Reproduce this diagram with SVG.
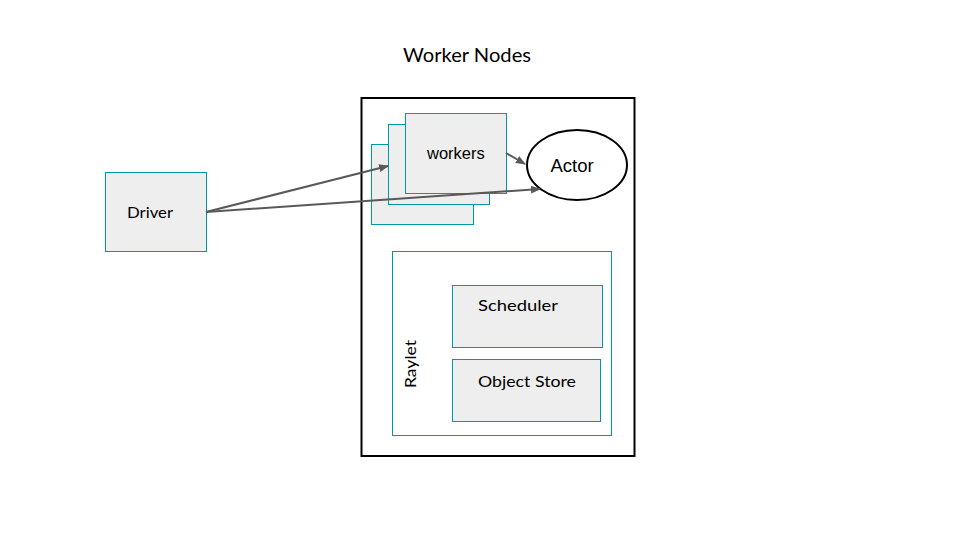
<svg xmlns="http://www.w3.org/2000/svg" width="960" height="540" viewBox="0 0 960 540">
<style>
.box{fill:#eeeeee;stroke:#0097a7;stroke-width:1}
.frame{fill:none;stroke:#0097a7;stroke-width:1}
.t{font-family:"Lato","Noto Sans",sans-serif;font-size:16px;fill:#000}
.a{font-family:"Liberation Sans",Arial,sans-serif;fill:#000}
.c{fill:none;stroke:#595959;stroke-width:2;marker-end:url(#ah)}
</style>
<defs>
<marker id="ah" markerWidth="10" markerHeight="8" refX="9" refY="4" orient="auto" markerUnits="userSpaceOnUse">
<path d="M0,0 L10,4 L0,8 Z" fill="#595959"/>
</marker>
</defs>
<rect width="960" height="540" fill="#fff"/>
<text class="t" x="403" y="62" style="font-size:19px" textLength="128" lengthAdjust="spacingAndGlyphs">Worker Nodes</text>
<g id="worker-nodes"><rect x="361.5" y="98" width="273" height="358" fill="none" stroke="#000" stroke-width="2"/></g>
<g id="driver"><rect class="box" x="105.5" y="172.5" width="101" height="79"/><text class="t" x="127" y="218" textLength="46" lengthAdjust="spacingAndGlyphs">Driver</text></g>
<g id="workers">
<rect class="box" x="371.5" y="144.5" width="102" height="80"/>
<rect class="box" x="388.5" y="124.5" width="101" height="80"/>
<rect class="box" x="405.5" y="113.5" width="101" height="80"/>
<text class="a" x="427" y="159" font-size="16.5">workers</text>
</g>
<g id="actor"><ellipse cx="577" cy="165" rx="50" ry="35" fill="#fff" stroke="#000" stroke-width="2"/><text class="a" x="572" y="171.5" font-size="18.5" text-anchor="middle">Actor</text></g>
<g id="raylet"><rect class="frame" x="392.5" y="251.5" width="219" height="184"/><text class="t" transform="translate(416,364) rotate(-90)" text-anchor="middle" textLength="48" lengthAdjust="spacingAndGlyphs">Raylet</text></g>
<g id="scheduler"><rect class="box" x="452.5" y="285.5" width="150" height="62"/><text class="t" x="478" y="311" textLength="80" lengthAdjust="spacingAndGlyphs">Scheduler</text></g>
<g id="object-store"><rect class="box" x="452.5" y="359.5" width="148" height="62"/><text class="t" x="478" y="387" textLength="98" lengthAdjust="spacingAndGlyphs">Object Store</text></g>
<g id="connectors">
<line class="c" x1="206" y1="212" x2="388" y2="166"/>
<line class="c" x1="206" y1="212" x2="540" y2="189"/>
<line class="c" x1="506" y1="153" x2="525" y2="164"/>
</g>
</svg>
